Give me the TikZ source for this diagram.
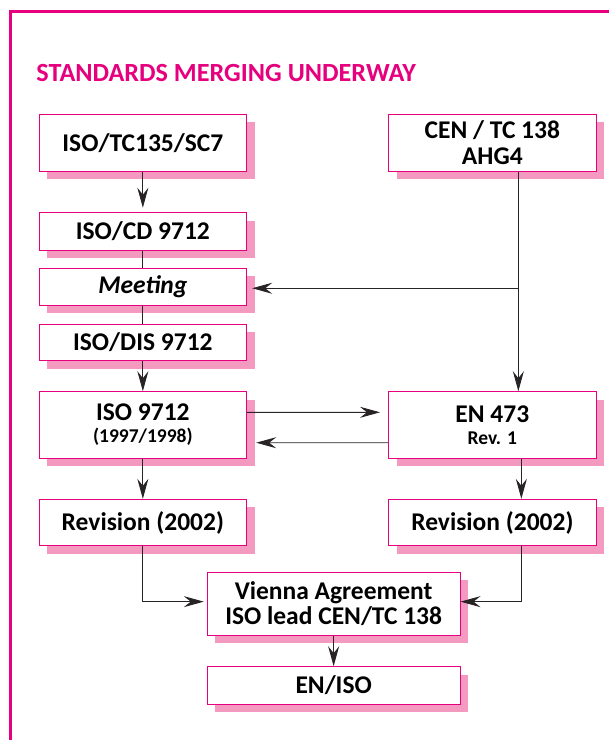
\documentclass[tikz,border=0pt]{standalone}
\usepackage{fontspec}
\setmainfont{Carlito}
\usepackage{tikz}
\usetikzlibrary{arrows.meta,positioning,shadows}

\definecolor{stdmagenta}{RGB}{230,0,126}
\definecolor{stdshadow}{RGB}{244,154,193}
\definecolor{stdline}{RGB}{40,36,37}

\newcommand{\subline}{\fontsize{19.5}{19.5}\selectfont}

\begin{document}
\begin{tikzpicture}[->,>={Stealth[length=20pt,width=11pt,inset=7pt]},line width=0.9pt,draw=stdline,
    stage/.style={draw=stdmagenta,line width=1pt,fill=white,minimum width=207.7pt,inner sep=0pt,align=center,
      font=\bfseries\fontsize{25.5}{25.5}\selectfont,
      drop shadow={shadow xshift=8pt,shadow yshift=-8pt,fill=stdshadow,opacity=1}}]

      \useasboundingbox (0pt,0pt) rectangle (609pt,-740pt);
      \clip (0pt,0pt) rectangle (609pt,-740pt);
      \draw[-,stdmagenta,line width=3pt] (10pt,-780pt) -- (10pt,-11.7pt) -- (650pt,-11.7pt);

      \node[anchor=base west,inner sep=0pt,text=stdmagenta,font=\bfseries\fontsize{26.2}{26.2}\selectfont] (title) at (36pt,-81.7pt) {STANDARDS MERGING UNDERWAY};

      \node[stage,minimum height=56.7pt] (tc135) at (142.85pt,-142.65pt) {ISO/TC135/SC7};
      \node[stage,minimum height=37.3pt] (cd) [below of=tc135,node distance=88.7pt] {ISO/CD 9712};
      \node[stage,minimum height=36.7pt] (meet) [below of=cd,node distance=55.3pt] {\itshape Meeting};
      \node[stage,minimum height=36.7pt] (dis) [below of=meet,node distance=55.7pt] {ISO/DIS 9712};
      \node[stage,minimum height=66.6pt] (iso) [below of=dis,node distance=82.65pt] {ISO 9712\\[-3.5pt]\subline (1997/1998)};
      \node[stage,minimum height=46.4pt] (revL) [below of=iso,node distance=97.5pt] {Revision (2002)};

      \node[stage,minimum height=56.7pt] (cen) [right of=tc135,node distance=349.5pt] {CEN / TC 138\\AHG4};
      \node[stage,minimum height=66.6pt] (en) [below of=cen,node distance=282.35pt] {EN 473\\[-3.5pt]\subline Rev. 1};
      \node[stage,minimum height=46.4pt] (revR) [below of=en,node distance=97.5pt] {Revision (2002)};

      \node[stage,minimum width=252.7pt,minimum height=62.7pt] (vienna) at (333.65pt,-603.65pt) {Vienna Agreement\\ISO lead CEN/TC 138};
      \node[stage,minimum width=252.7pt,minimum height=37.6pt] (eniso) [below of=vienna,node distance=81.85pt] {EN/ISO};

      \coordinate (cenfoot) at ([xshift=26pt]cen.south);
      \coordinate (enfoot) at ([xshift=29pt]en.south);

      \path (tc135) edge[shorten >=4.5pt] (cd);
      \draw[-] (cd) -- (meet);
      \draw[-] (meet) -- (dis);
      \path (dis) edge (iso);
      \path (iso) edge (revL);

      \draw (cenfoot) -- (cenfoot |- en.north);
      \draw[shorten >=5pt] ([yshift=-1.6pt]cenfoot |- meet.east) -- ([yshift=-1.6pt]meet.east);
      \path (enfoot) edge (enfoot |- revR.north);

      \path ([yshift=12.7pt]iso.east) edge[shorten >=8pt] ([yshift=12.7pt]en.west);
      \path ([yshift=-17.7pt]en.west) edge[shorten >=9pt] ([yshift=-17.7pt]iso.east);

      \draw[shorten >=3pt] (revL) |- ([yshift=2pt]vienna.west);
      \draw (enfoot |- revR.south) |- ([yshift=2pt]vienna.east);
      \path (vienna) edge (eniso);

    \end{tikzpicture}
\end{document}
